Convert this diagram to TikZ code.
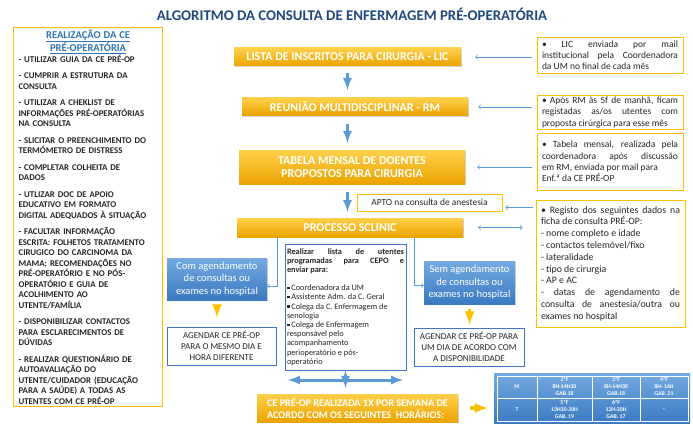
\documentclass[tikz,border=0pt]{standalone}
\usepackage{fontspec}
\setmainfont{Carlito}
\usepackage{tikz}
\usetikzlibrary{positioning,shadows}
\newcommand\tam[2]{\fontsize{#1}{#2}\selectfont}
\definecolor{ouro}{HTML}{FFC000}
\definecolor{ourocl}{HTML}{FFD04A}
\definecolor{ouroesc}{HTML}{EBA300}
\definecolor{azul}{HTML}{5B9BD5}
\definecolor{azulcl}{HTML}{74AAE0}
\definecolor{azulesc}{HTML}{3A7AC2}
\definecolor{azulborda}{HTML}{4472C4}
\definecolor{azultit}{HTML}{1F497D}
\definecolor{azulcab}{HTML}{2E74B5}
\definecolor{texto}{HTML}{262626}

\begin{document}
\begin{tikzpicture}[x=1pt, y=-1pt,
    caixaouro/.style={top color=ourocl, middle color=ouro, bottom color=ouroesc, text=white,
        font=\bfseries\tam{12}{12.3}, align=center, inner sep=1pt,
        drop shadow={opacity=.35, shadow xshift=1.2pt, shadow yshift=-1.2pt}},
    caixaazul/.style={top color=azulcl, bottom color=azulesc, text=white,
        font=\tam{10.5}{12.5}, align=center, inner sep=1pt,
        drop shadow={opacity=.35, shadow xshift=1.2pt, shadow yshift=-1.2pt}},
    caixanota/.style={draw=ouro, line width=.9pt, fill=white, text=texto, inner xsep=5pt, inner ysep=2pt},
    caixalinha/.style={draw=azulborda, line width=.8pt, fill=white, text=texto, inner sep=2pt},
    setaazul/.style={draw=azul, line width=3pt, -latex},
    setafina/.style={draw=azul, line width=.8pt, ->},
    ligacao/.style={draw=azul, line width=.7pt, ->},
    setaouro/.style={draw=ouro, line width=3.5pt, -latex}]
  \useasboundingbox (0,0) rectangle (693,425);

  \node[text=azultit, font=\bfseries\tam{14.8}{15}] (titulo) at (352,14) {ALGORITMO DA CONSULTA DE ENFERMAGEM PRÉ-OPERATÓRIA};

  \node[caixanota, line width=1.2pt, anchor=north west, text width=139pt, minimum height=379pt, align=left,
        font=\bfseries\tam{8.8}{10.5}] (realiz) at (13,27) {%
    {\centering\color{azulcab}\bfseries\tam{10.5}{11.5}\underline{REALIZAÇÃO DA CE}\\ \underline{PRÉ-OPERATÓRIA}\par}
    - UTILIZAR GUIA DA CE PRÉ-OP\\[6pt]
    - CUMPRIR A ESTRUTURA DA\\ CONSULTA\\[6pt]
    - UTILIZAR A CHEKLIST DE\\ INFORMAÇÕES PRÉ-OPERATÓRIAS\\ NA CONSULTA\\[6pt]
    - SLICITAR O PREENCHIMENTO DO\\ TERMÓMETRO DE DISTRESS\\[6pt]
    - COMPLETAR COLHEITA DE\\ DADOS\\[6pt]
    - UTLIZAR DOC DE APOIO\\ EDUCATIVO EM FORMATO\\ DIGITAL ADEQUADOS À SITUAÇÃO\\[6pt]
    - FACULTAR INFORMAÇÃO\\ ESCRITA: FOLHETOS TRATAMENTO\\ CIRUGICO DO CARCINOMA DA\\ MAMA; RECOMENDAÇÕES NO\\ PRÉ-OPERATÓRIO E NO PÓS-\\ OPERATÓRIO E GUIA DE\\ ACOLHIMENTO AO\\ UTENTE/FAMÍLIA\\[6pt]
    - DISPONIBILIZAR CONTACTOS\\ PARA ESCLARECIMENTOS DE\\ DÚVIDAS\\[6pt]
    - REALIZAR QUESTIONÁRIO DE\\ AUTOAVALIAÇÃO DO\\ UTENTE/CUIDADOR (EDUCAÇÃO\\ PARA A SAÚDE) A TODAS AS\\ UTENTES COM CE PRÉ-OP};

  \node[caixaouro, minimum width=227pt, minimum height=18pt] (lic) at (347.5,57) {LISTA DE INSCRITOS PARA CIRURGIA - LIC};
  \node[caixaouro, minimum width=226pt, minimum height=18pt] (rm) at (355,107) {REUNIÃO MULTIDISCIPLINAR - RM};
  \node[caixaouro, minimum width=226pt, minimum height=34pt] (tabela) at (352,167) {TABELA MENSAL DE DOENTES\\PROPOSTOS PARA CIRURGIA};
  \node[caixaouro, minimum width=226pt, minimum height=19pt] (sclinic) at (350,227.5) {PROCESSO SCLINIC};
  \node[caixaouro, minimum width=201pt, minimum height=28pt, align=left, font=\bfseries\tam{10.2}{12.5}] (cepo) at (357.5,408) {CE PRÉ-OP REALIZADA 1X POR SEMANA DE\\ACORDO COM OS SEGUINTES\ \ HORÁRIOS:};

  \node[caixanota, text width=136pt, minimum height=36pt, align=justify, font=\tam{9.5}{11.2}] (nota1) at (610,55) {• LIC enviada por mail\linebreak institucional pela Coordenadora\linebreak da UM no final de cada mês};
  \node[caixanota, text width=136pt, minimum height=33pt, align=justify, font=\tam{9.5}{11.2}] (nota2) at (610,112.5) {• Após RM às 5f de manhã, ficam\linebreak registadas as/os utentes com\linebreak proposta cirúrgica para esse mês};
  \node[caixanota, text width=136pt, minimum height=57pt, align=justify, font=\tam{9.5}{11.2}] (nota3) at (610,161.5) {• Tabela mensal, realizada pela\linebreak coordenadora após discussão\linebreak em RM, enviada por mail para\\ Enf.ª da CE PRÉ-OP};
  \node[caixanota, text width=139pt, minimum height=127pt, align=justify, font=\tam{9.8}{11.8}] (nota4) at (610.5,263.5) {• Registo dos seguintes dados na\linebreak ficha de consulta PRÉ-OP:\\ - nome completo e idade\\ - contactos telemóvel/fixo\\ - lateralidade\\ - tipo de cirurgia\\ - AP e AC\\ - datas de agendamento de\linebreak consulta de anestesia/outra ou\linebreak exames no hospital};
  \node[caixanota, minimum width=145pt, minimum height=17pt, font=\tam{9.4}{10}] (apto) at (429.5,202.5) {APTO na consulta de anestesia};

  \node[caixaazul, minimum width=100pt, minimum height=42pt] (comhosp) at (217,279) {Com agendamento\\de consultas ou\\exames no hospital};
  \node[caixaazul, minimum width=91pt, minimum height=43pt] (semhosp) at (469.5,282.5) {Sem agendamento\\de consultas ou\\exames no hospital};

  \node[caixalinha, text width=117pt, minimum height=126pt, align=justify, font=\tam{8.3}{9.2}] (lista) at (345.5,307) {%
    {\bfseries Realizar lista de utentes\linebreak programadas para CEPO e\linebreak enviar para:\par}\vspace{9pt}
    \rule[1.5pt]{2.5pt}{2.5pt}\ Coordenadora da UM\\
    \rule[1.5pt]{2.5pt}{2.5pt}\ Assistente Adm. da C. Geral\\
    \rule[1.5pt]{2.5pt}{2.5pt}\ Colega da C. Enfermagem de\\ senologia\\
    \rule[1.5pt]{2.5pt}{2.5pt}\ Colega de Enfermagem\\ responsável pelo\\ acompanhamento\\ perioperatório e pós-\\ operatório};

  \node[caixalinha, minimum width=109pt, minimum height=38pt, align=center, font=\tam{9}{11}] (agendarA) at (221.5,346) {AGENDAR CE PRÉ-OP\\PARA O MESMO DIA E\\HORA DIFERENTE};
  \node[caixalinha, minimum width=110pt, minimum height=38pt, align=center, font=\tam{9}{11}] (agendarB) at (469,347) {AGENDAR CE PRÉ-OP PARA\\UM DIA DE ACORDO COM\\A DISPONIBILIDADE};

  \node[top color=azulcl, bottom color=azulesc, minimum width=196pt, minimum height=50pt] (horario) at (592,398) {};
  \draw[white, line width=.8pt] (497,376) rectangle (688,421)
        (537,376) -- (537,421) (592,376) -- (592,421) (640,376) -- (640,421) (497,398.5) -- (688,398.5);
  \foreach \x/\y/\t in {517/387/M, 564.5/387/{2ªF\\8H-14H30\\GAB.18}, 616/387/{3ªF\\8H-14H30\\GAB.18}, 664/387/{4ªF\\8H- 16H\\GAB. 21},
                        517/410/T, 564.5/410/{5ªF\\13H30-20H\\GAB. 19}, 616/410/{6ªF\\12H-20H\\GAB. 17}, 664/410/-}
    \node[text=white, align=center, font=\bfseries\tam{5.8}{7}] at (\x,\y) {\t};

  \draw[setaazul, shorten <=7pt, shorten >=8pt] (lic.south) -- (lic.south |- rm.north);
  \draw[setaazul, shorten <=8pt, shorten >=7pt] (rm.south -| lic.south) -- (tabela.north -| lic.south);
  \draw[setaazul, shorten <=8pt, shorten >=6pt] (tabela.south -| lic.south) -- (sclinic.north -| lic.south);

  \draw[setafina, shorten <=5pt, shorten >=14pt] (nota1.west |- lic.east) -- (lic.east);
  \draw[setafina, shorten <=5pt, shorten >=10pt] (nota2.west |- rm.east) -- (rm.east);
  \draw[setafina, shorten <=5pt, shorten >=12pt] (nota3.west |- tabela.east) -- (tabela.east);
  \draw[setafina, shorten <=3pt, shorten >=3pt] ([yshift=-5pt]nota4.west |- apto.east) -- ([yshift=-5pt]apto.east);
  \draw[setafina, <->, shorten <=15pt, shorten >=13pt] (sclinic.east) -- (sclinic.east -| nota4.west);

  \draw[ligacao] ([xshift=41pt]sclinic.south west) |- ([yshift=-7pt]comhosp.east);
  \draw[ligacao] ([xshift=-49pt]sclinic.south east) |- ([yshift=-3pt]semhosp.west);

  \draw[setaouro, shorten <=6pt, shorten >=9pt] (comhosp.south) -- (comhosp.south |- agendarA.north);
  \draw[setaouro, shorten <=5pt, shorten >=3pt] (semhosp.south) -- (semhosp.south |- agendarB.north);
  \draw[setaouro, shorten <=12pt, shorten >=6pt] (cepo.east) -- (cepo.east -| horario.west);

  \coordinate (cruzW) at (288,380);
  \coordinate (cruzE) at (403,380);
  \draw[setaazul, latex-latex] (cruzW) -- (cruzE);
  \draw[setaazul, latex-latex, shorten >=6pt] (lista.south) -- (lista.south |- cepo.north);
\end{tikzpicture}
\end{document}
